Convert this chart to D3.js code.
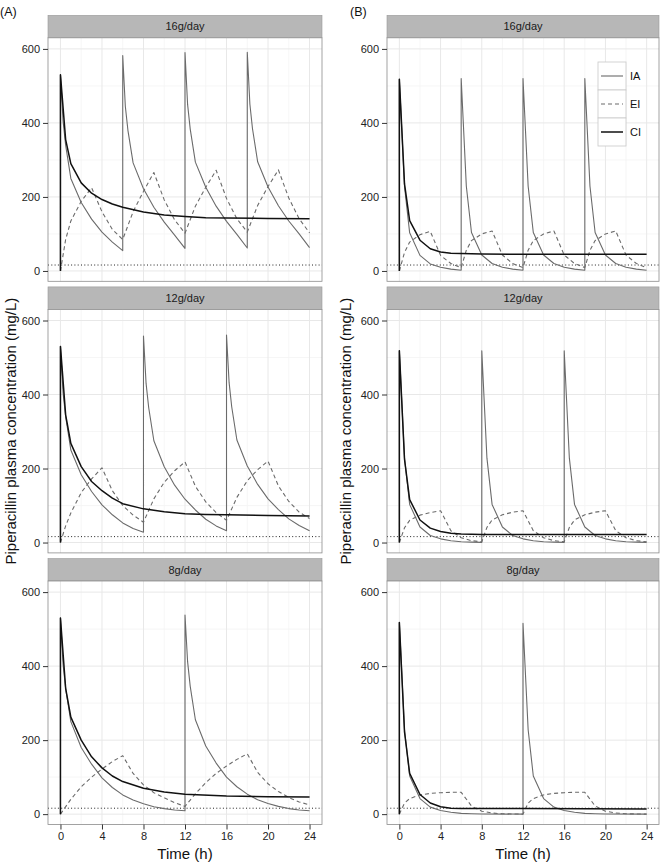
<!DOCTYPE html>
<html>
<head>
<meta charset="utf-8">
<script src="https://cdn.jsdelivr.net/npm/d3@7"></script>
<style>
  body { margin: 0; background: #fff; }
  svg { display: block; font-family: "Liberation Sans", Arial, sans-serif; }
</style>
</head>
<body>
<svg id="chart" width="660" height="862"></svg>
<script>
    // facet labels + axis ticks
    var panelNames = ["16g/day", "12g/day", "8g/day"];
    var xTicks = [0, 4, 8, 12, 16, 20, 24];
    var xMinor = [2, 6, 10, 14, 18, 22];
    var yTicks = [0, 200, 400, 600];
    var yMinor = [100, 300, 500];
    var mic = 16;
    var seriesNames = ["IA", "EI", "CI"];

    // (A) panels, [time h, conc mg/L]
    var a16IA = [[0,0],[0,530],[0.25,405],[0.5,340],[1,250],[2,185],[3,140],[4,105],[5,78],[6,55],
        [6,582],[6.25,445],[6.5,380],[7,292],[8,222],[9,172],[10,132],[11,97],[12,61],
        [12,590],[12.25,450],[12.5,384],[13,294],[14,226],[15,175],[16,134],[17,99],[18,62],
        [18,591],[18.25,451],[18.5,385],[19,295],[20,227],[21,176],[22,135],[23,100],[24,63]];
    var a16EI = [[0,0],[0.5,85],[1,135],[2,188],[3,225],[4,160],[5,112],[6,85],[7,160],[8,215],[9,266],
        [10,192],[11,138],[12,102],[13,175],[14,226],[15,272],[16,196],[17,141],[18,105],
        [19,177],[20,228],[21,273],[22,197],[23,141],[24,103]];
    var a16CI = [[0,0],[0,530],[0.5,355],[1,290],[2,238],[3,210],[4,193],[5,181],[6,172],[8,159],
        [10,151],[12,147],[14,144],[16,143],[20,142],[24,141]];

    var a12IA = [[0,0],[0,530],[0.25,405],[0.5,340],[1,250],[2,183],[3,138],[4,102],[5,75],[6,53],[7,38],[8,28],
        [8,558],[8.25,430],[8.5,365],[9,275],[10,205],[11,155],[12,117],[13,88],[14,63],[15,45],[16,32],
        [16,561],[16.25,432],[16.5,367],[17,277],[18,207],[19,157],[20,118],[21,89],[22,64],[23,46],[24,32]];
    var a12EI = [[0,0],[0.5,45],[1,80],[2,135],[3,172],[4,202],[5,140],[6,100],[7,74],[8,55],
        [9,118],[10,163],[11,194],[12,218],[13,152],[14,110],[15,81],[16,60],
        [17,122],[18,167],[19,197],[20,220],[21,153],[22,111],[23,82],[24,65]];
    var a12CI = [[0,0],[0,530],[0.5,345],[1,268],[2,205],[3,165],[4,140],[5,120],[6,105],[8,91],
        [10,83],[12,78],[14,76],[16,75],[20,73],[24,72]];

    var a8IA = [[0,0],[0,530],[0.25,405],[0.5,340],[1,250],[2,180],[3,135],[4,98],[5,72],[6,52],[7,38],[8,28],
        [9,20],[10,15],[11,11],[12,9],
        [12,538],[12.25,412],[12.5,346],[13,255],[14,184],[15,138],[16,100],[17,74],[18,54],[19,39],[20,29],
        [21,21],[22,15],[23,11],[24,9]];
    var a8EI = [[0,0],[1,40],[2,74],[3,100],[4,122],[5,142],[6,158],[7,110],[8,79],[9,58],[10,44],[11,31],[12,21],
        [13,55],[14,85],[15,110],[16,130],[17,148],[18,163],[19,113],[20,82],[21,61],[22,45],[23,33],[24,25]];
    var a8CI = [[0,0],[0,530],[0.5,340],[1,262],[2,200],[3,155],[4,125],[5,103],[6,88],[8,70],
        [10,60],[12,54],[16,49],[20,47],[24,46]];

    // (B) panels
    var b16IA = [[0,0],[0,518],[0.5,228],[1,103],[2,42],[3,19],[4,10],[5,5],[6,2],
        [6,520],[6.5,229],[7,104],[8,43],[9,20],[10,10],[11,5],[12,2],
        [12,520],[12.5,229],[13,104],[14,43],[15,20],[16,10],[17,5],[18,2],
        [18,520],[18.5,229],[19,104],[20,43],[21,20],[22,10],[23,5],[24,2]];
    var b16EI = [[0,0],[0.5,50],[1,78],[2,98],[3,107],[4,42],[5,20],[6,9],
        [6.5,56],[7,82],[8,100],[9,108],[10,43],[11,20],[12,9],
        [12.5,56],[13,82],[14,100],[15,108],[16,43],[17,20],[18,9],
        [18.5,56],[19,82],[20,100],[21,108],[22,43],[23,20],[24,9]];
    var b16CI = [[0,0],[0,518],[0.5,235],[1,136],[2,83],[3,60],[4,51],[5,48],[6,47],[8,46],[12,45],[24,45]];

    var b12IA = [[0,0],[0,518],[0.5,228],[1,103],[2,42],[3,19],[4,10],[5,5],[6,2],[7,1],[8,0.5],
        [8,518],[8.5,228],[9,103],[10,42],[11,19],[12,10],[13,5],[14,2],[15,1],[16,0.5],
        [16,518],[16.5,228],[17,103],[18,42],[19,19],[20,10],[21,5],[22,2],[23,1],[24,0.5]];
    var b12EI = [[0,0],[0.5,40],[1,60],[2,74],[3,81],[4,86],[5,32],[6,13],[7,5],[8,2],
        [8.5,41],[9,61],[10,75],[11,82],[12,86],[13,32],[14,13],[15,5],[16,2],
        [16.5,41],[17,61],[18,75],[19,82],[20,86],[21,32],[22,13],[23,5],[24,2]];
    var b12CI = [[0,0],[0,518],[0.5,225],[1,116],[2,61],[3,39],[4,30],[5,25],[6,23],[8,22],[24,22]];

    var b8IA = [[0,0],[0,518],[0.5,228],[1,103],[2,42],[3,19],[4,10],[5,5],[6,2],[7,1],[8,0.5],[12,0],
        [12,516],[12.5,228],[13,103],[14,42],[15,19],[16,10],[17,5],[18,2],[19,1],[20,0.5],[24,0]];
    var b8EI = [[0,0],[0.5,30],[1,42],[2,52],[3,56],[4,58],[5,59],[6,59],[7,22],[8,8],[9,3],[10,1],[11,0.5],[12,0],
        [12.5,30],[13,42],[14,52],[15,56],[16,58],[17,59],[18,59],[19,22],[20,8],[21,3],[22,1],[23,0.5],[24,0]];
    var b8CI = [[0,0],[0,518],[0.5,222],[1,110],[2,53],[3,30],[4,20],[5,16],[6,15],[12,15],[24,14]];

    var svg = d3.select("#chart");

    var cols = [
        { tag: "(A)", tagX: 0, x0: 48, x1: 322, titleX: 11,
          series: [[a16IA, a16EI, a16CI], [a12IA, a12EI, a12CI], [a8IA, a8EI, a8CI]] },
        { tag: "(B)", tagX: 350, x0: 387, x1: 659, titleX: 346,
          series: [[b16IA, b16EI, b16CI], [b12IA, b12EI, b12CI], [b8IA, b8EI, b8CI]] }
    ];

    var rowStep = 271.6;
    var plotTop0 = 37.8;
    var plotH = 243.5;
    var stripH = 22.5;

    // line look for IA / EI / CI
    var styles = [
        { stroke: "#6b6b6b", width: 1.1, dash: null },
        { stroke: "#6b6b6b", width: 1.1, dash: "4,3" },
        { stroke: "#111", width: 1.5, dash: null }
    ];

    cols.forEach(function(col) {
        svg.append("text")
            .attr("x", col.tagX).attr("y", 16)
            .attr("font-size", 12.5).attr("fill", "#111")
            .text(col.tag);

        for (var r = 0; r < 3; r++) {
            drawPanel(col, r);
        }

        svg.append("text")
            .attr("transform", "translate(" + col.titleX + "," + (plotTop0 + rowStep + plotH / 2) + ") rotate(-90)")
            .attr("text-anchor", "middle")
            .attr("dy", "0.35em")
            .attr("font-size", 15).attr("fill", "#111")
            .text("Piperacillin plasma concentration (mg/L)");

        svg.append("text")
            .attr("x", (col.x0 + col.x1) / 2)
            .attr("y", 859)
            .attr("text-anchor", "middle")
            .attr("font-size", 15).attr("fill", "#111")
            .text("Time (h)");
    });

    function drawPanel(col, r) {
        var top = plotTop0 + r * rowStep;
        var bottom = top + plotH;

        var x = d3.scaleLinear().domain([-1.2, 25.2]).range([col.x0, col.x1]);
        var y = d3.scaleLinear().domain([-28, 630]).range([bottom, top]);

        var g = svg.append("g");

        // strip
        g.append("rect")
            .attr("x", col.x0).attr("y", top - stripH)
            .attr("width", col.x1 - col.x0).attr("height", stripH)
            .attr("fill", "#b7b7b7").attr("stroke", "#9a9a9a").attr("stroke-width", 0.6);
        g.append("text")
            .attr("x", (col.x0 + col.x1) / 2).attr("y", top - stripH / 2)
            .attr("dy", "0.35em").attr("text-anchor", "middle")
            .attr("font-size", 11).attr("fill", "#1a1a1a")
            .text(panelNames[r]);

        g.append("rect")
            .attr("x", col.x0).attr("y", top)
            .attr("width", col.x1 - col.x0).attr("height", plotH)
            .attr("fill", "#fff");

        // grid
        g.selectAll(".gxm").data(xMinor).enter().append("line")
            .attr("x1", d => x(d)).attr("x2", d => x(d)).attr("y1", top).attr("y2", bottom)
            .attr("stroke", "#f4f4f4").attr("stroke-width", 0.8);
        g.selectAll(".gym").data(yMinor).enter().append("line")
            .attr("x1", col.x0).attr("x2", col.x1).attr("y1", d => y(d)).attr("y2", d => y(d))
            .attr("stroke", "#f4f4f4").attr("stroke-width", 0.8);
        g.selectAll(".gx").data(xTicks).enter().append("line")
            .attr("x1", d => x(d)).attr("x2", d => x(d)).attr("y1", top).attr("y2", bottom)
            .attr("stroke", "#e8e8e8").attr("stroke-width", 1);
        g.selectAll(".gy").data(yTicks).enter().append("line")
            .attr("x1", col.x0).attr("x2", col.x1).attr("y1", d => y(d)).attr("y2", d => y(d))
            .attr("stroke", "#e8e8e8").attr("stroke-width", 1);

        // MIC line
        g.append("line")
            .attr("x1", col.x0).attr("x2", col.x1)
            .attr("y1", y(mic)).attr("y2", y(mic))
            .attr("stroke", "#222").attr("stroke-width", 1)
            .attr("stroke-dasharray", "1,2.3");

        var line = d3.line().x(d => x(d[0])).y(d => y(d[1]));
        var clip = "clip" + col.tag.charAt(1) + r;
        svg.append("clipPath").attr("id", clip).append("rect")
            .attr("x", col.x0).attr("y", top).attr("width", col.x1 - col.x0).attr("height", plotH);

        col.series[r].forEach(function(s, i) {
            g.append("path")
                .datum(s)
                .attr("d", line)
                .attr("clip-path", "url(#" + clip + ")")
                .attr("fill", "none")
                .attr("stroke", styles[i].stroke)
                .attr("stroke-width", styles[i].width)
                .attr("stroke-dasharray", styles[i].dash)
                .attr("stroke-linejoin", "round");
        });

        // border
        g.append("rect")
            .attr("x", col.x0).attr("y", top)
            .attr("width", col.x1 - col.x0).attr("height", plotH)
            .attr("fill", "none").attr("stroke", "#8c8c8c").attr("stroke-width", 0.8);

        // y axis
        var yAxis = d3.axisLeft(y).tickValues(yTicks).tickSize(5).tickPadding(3);
        var ya = g.append("g").attr("transform", "translate(" + col.x0 + ",0)").call(yAxis);
        ya.select(".domain").remove();
        ya.selectAll("line").attr("stroke", "#333");
        ya.selectAll("text").attr("font-size", 11).attr("fill", "#222")
            .attr("font-family", "Liberation Sans, Arial, sans-serif");

        if (r == 2) {
            var xAxis = d3.axisBottom(x).tickValues(xTicks).tickSize(5).tickPadding(3);
            var xa = g.append("g").attr("transform", "translate(0," + bottom + ")").call(xAxis);
            xa.select(".domain").remove();
            xa.selectAll("line").attr("stroke", "#333");
            xa.selectAll("text").attr("font-size", 11).attr("fill", "#222")
                .attr("font-family", "Liberation Sans, Arial, sans-serif");
        }

        if (col.tag == "(B)" && r == 0) {
            drawLegend(598, 62);
        }
    }

    function drawLegend(lx, ly) {
        var keyW = 28, keyH = 28;
        var lg = svg.append("g").attr("transform", "translate(" + lx + "," + ly + ")");
        seriesNames.forEach(function(name, i) {
            lg.append("rect")
                .attr("x", 0).attr("y", i * keyH)
                .attr("width", keyW).attr("height", keyH)
                .attr("fill", "#fff").attr("stroke", "#c8c8c8").attr("stroke-width", 0.8);
            lg.append("line")
                .attr("x1", 3).attr("x2", keyW - 3)
                .attr("y1", i * keyH + keyH / 2).attr("y2", i * keyH + keyH / 2)
                .attr("stroke", styles[i].stroke)
                .attr("stroke-width", styles[i].width)
                .attr("stroke-dasharray", styles[i].dash);
            lg.append("text")
                .attr("x", keyW + 4).attr("y", i * keyH + keyH / 2)
                .attr("dy", "0.35em")
                .attr("font-size", 11).attr("fill", "#111")
                .text(name);
        });
    }
</script>
</body>
</html>
